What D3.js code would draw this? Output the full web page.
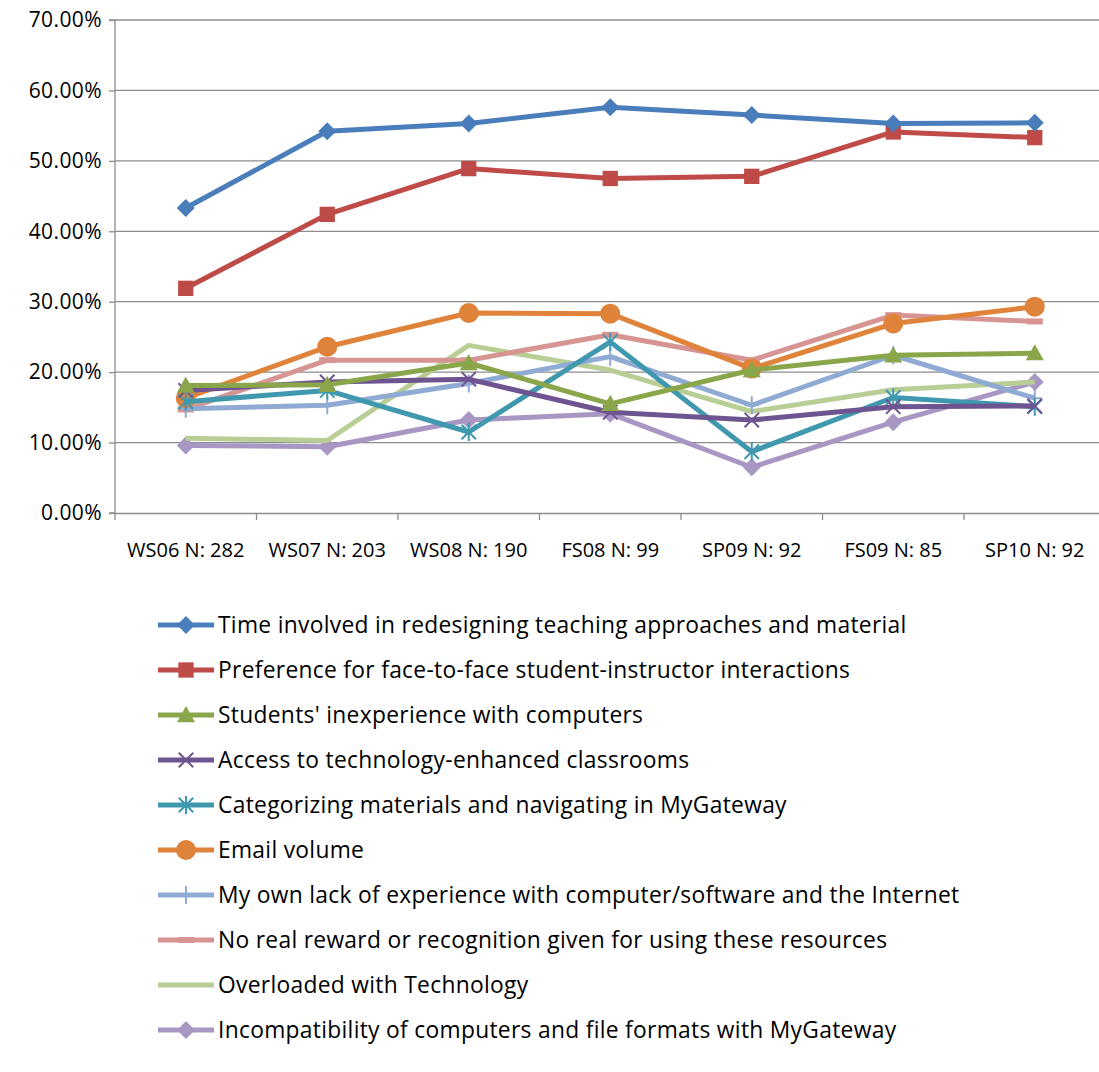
<!DOCTYPE html>
<html><head><meta charset="utf-8">
<script src="https://cdn.jsdelivr.net/npm/d3@7"></script>
<style>body{margin:0;background:#fff}svg{font-family:"Open Sans",Calibri,sans-serif}</style>
</head><body><svg id="c" width="1099" height="1072"></svg>
<script>
const categories=["WS06 N: 282","WS07 N: 203","WS08 N: 190","FS08 N: 99","SP09 N: 92","FS09 N: 85","SP10 N: 92"];
const yTicks=[0,10,20,30,40,50,60,70];
const names=["Time involved in redesigning teaching approaches and material","Preference for face-to-face student-instructor interactions","Students' inexperience with computers","Access to technology-enhanced classrooms","Categorizing materials and navigating in MyGateway","Email volume","My own lack of experience with computer/software and the Internet","No real reward or recognition given for using these resources","Overloaded with Technology","Incompatibility of computers and file formats with MyGateway"];
const timeVals=[43.3,54.2,55.3,57.6,56.5,55.3,55.4];
const faceVals=[31.9,42.4,48.9,47.5,47.8,54.1,53.3];
const studVals=[18.1,18.2,21.3,15.5,20.3,22.4,22.7];
const accessVals=[17.4,18.6,19.0,14.3,13.2,15.1,15.2];
const catVals=[15.8,17.4,11.5,24.3,8.7,16.4,15.1];
const emailVals=[16.3,23.6,28.4,28.3,20.5,26.9,29.3];
const ownVals=[14.8,15.3,18.4,22.2,15.3,22.4,16.3];
const rewardVals=[14.7,21.7,21.7,25.3,21.7,28.1,27.2];
const overVals=[10.6,10.3,23.8,20.3,14.4,17.5,18.6];
const incompVals=[9.6,9.4,13.2,14.1,6.5,12.9,18.6];
const seriesVals=[timeVals,faceVals,studVals,accessVals,catVals,emailVals,ownVals,rewardVals,overVals,incompVals];
const colors=["#4A7EBB","#BE4B48","#8AA64A","#6E5490","#3F98AE","#E0833A","#8FAAD3","#D69593","#B9CE95","#A897C2"];
const markers=["diamond","square","triangle","x","star","circle","plus","dash","none","diamond"];

const svg=d3.select("#c");
const FONT='"Open Sans",Calibri,sans-serif';
const x0=115,x1=1105.5,yTop=20,yBot=513;
const x=d3.scaleBand().domain(categories).range([x0,x1]);
const y=d3.scaleLinear().domain([0,70]).range([yBot,yTop]);
const g=svg.append("g");
g.selectAll(".grid").data(yTicks.slice(1)).join("line").attr("x1",x0).attr("x2",1099).attr("y1",d=>y(d)).attr("y2",d=>y(d)).attr("stroke","#8c8c8c").attr("stroke-width",1.3);
const ya=g.append("g").attr("transform",`translate(${x0},0)`).call(d3.axisLeft(y).tickValues(yTicks).tickFormat(d=>d.toFixed(2)+"%").tickSize(6).tickPadding(7));
ya.attr("font-family",FONT);
ya.selectAll("text").attr("font-size",21).attr("fill","#000").attr("letter-spacing",0.4);
ya.selectAll("line,path").attr("stroke","#8c8c8c").attr("stroke-width",1.3);
ya.select("path").attr("d",`M-6,${yTop}H0V${yBot}H-6`);
const xa=g.append("g").attr("transform",`translate(0,${yBot})`).call(d3.axisBottom(x).tickSize(0).tickPadding(30));
xa.attr("font-family",FONT);
xa.selectAll("text").attr("font-size",20).attr("fill","#000");
xa.select("path").attr("stroke","#8c8c8c").attr("stroke-width",1.3);
g.selectAll(".xt").data(d3.range(categories.length+1)).join("line").attr("x1",i=>x0+i*x.step()).attr("x2",i=>x0+i*x.step()).attr("y1",yBot).attr("y2",yBot+7).attr("stroke","#8c8c8c").attr("stroke-width",1.3);

function marker(sel,type,c,s){
  if(type==="diamond")sel.append("path").attr("d",`M0,${-s}L${s},0L0,${s}L${-s},0Z`).attr("fill",c);
  else if(type==="square")sel.append("rect").attr("x",-s*0.85).attr("y",-s*0.85).attr("width",s*1.7).attr("height",s*1.7).attr("fill",c);
  else if(type==="triangle")sel.append("path").attr("d",`M0,${-s}L${s},${s*0.8}L${-s},${s*0.8}Z`).attr("fill",c);
  else if(type==="circle")sel.append("circle").attr("r",s).attr("fill",c);
  else if(type==="x")sel.append("path").attr("d",`M${-s*0.8},${-s*0.8}L${s*0.8},${s*0.8}M${-s*0.8},${s*0.8}L${s*0.8},${-s*0.8}`).attr("stroke",c).attr("stroke-width",2);
  else if(type==="star")sel.append("path").attr("d",`M${-s*0.8},${-s*0.8}L${s*0.8},${s*0.8}M${-s*0.8},${s*0.8}L${s*0.8},${-s*0.8}M0,${-s}L0,${s}`).attr("stroke",c).attr("stroke-width",2);
  else if(type==="plus")sel.append("path").attr("d",`M0,${-s}L0,${s}M${-s*0.8},0L${s*0.8},0`).attr("stroke",c).attr("stroke-width",2);
  else if(type==="dash")sel.append("rect").attr("x",-s*0.9).attr("y",-3).attr("width",s*1.8).attr("height",6).attr("fill",c);
}
const line=d3.line().x((d,i)=>x(categories[i])+x.bandwidth()/2).y(d=>y(d));
for(let k=seriesVals.length-1;k>=0;k--){
  const vals=seriesVals[k];
  g.append("path").attr("d",line(vals)).attr("fill","none").attr("stroke",colors[k]).attr("stroke-width",5).attr("stroke-linejoin","round");
  vals.forEach((v,i)=>{const m=g.append("g").attr("transform",`translate(${x(categories[i])+x.bandwidth()/2},${y(v)})`);marker(m,markers[k],colors[k],k===5?10:9);});
}
const lg=svg.append("g");
names.forEach((n,k)=>{
  const yy=625+k*45;
  lg.append("line").attr("x1",158).attr("x2",214).attr("y1",yy).attr("y2",yy).attr("stroke",colors[k]).attr("stroke-width",5);
  marker(lg.append("g").attr("transform",`translate(186,${yy})`),markers[k],colors[k],k===5?10:9);
  lg.append("text").attr("x",218).attr("y",yy+8).attr("font-size",22.8).attr("letter-spacing",0.3).text(n);
});
</script></body></html>
